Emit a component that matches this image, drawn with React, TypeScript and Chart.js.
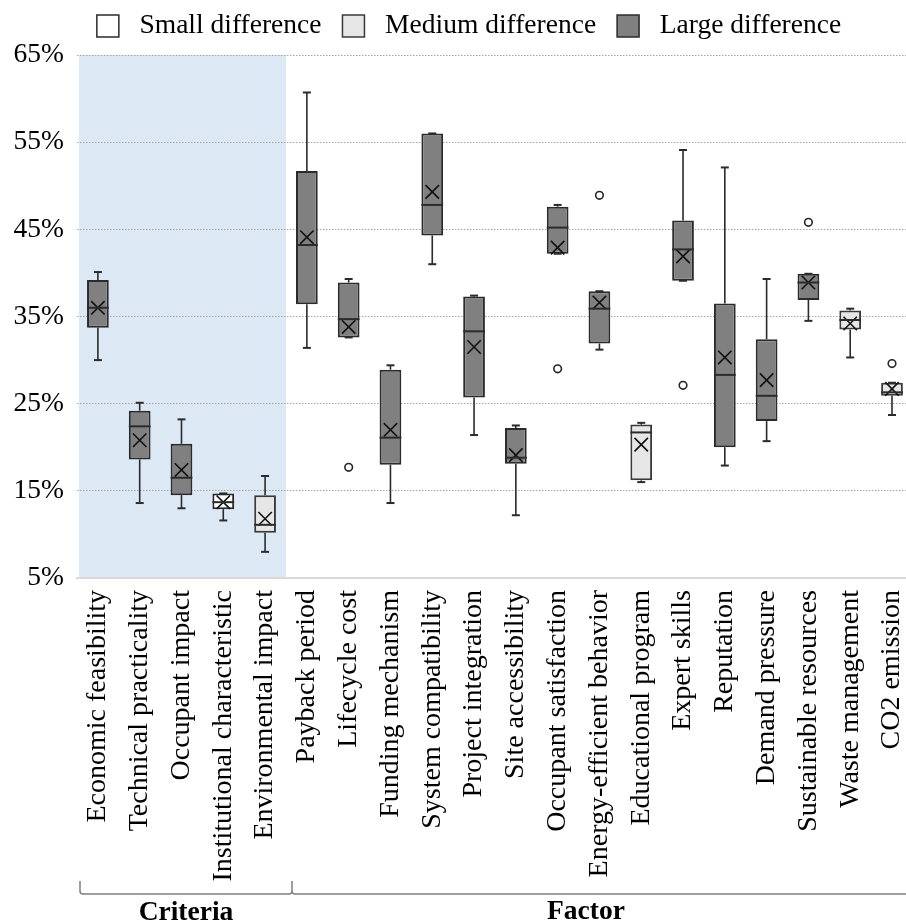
import React, { useEffect, useRef } from 'react';
import { Chart, registerables } from 'chart.js';

Chart.register(...registerables);

// ---------------- data ----------------
const categories = [
  'Economic feasibility',
  'Technical practicality',
  'Occupant impact',
  'Institutional characteristic',
  'Environmental impact',
  'Payback period',
  'Lifecycle cost',
  'Funding mechanism',
  'System compatibility',
  'Project integration',
  'Site accessibility',
  'Occupant satisfaction',
  'Energy-efficient behavior',
  'Educational program',
  'Expert skills',
  'Reputation',
  'Demand pressure',
  'Sustainable resources',
  'Waste management',
  'CO2 emission',
];

// difference level of each category: 0 = small, 1 = medium, 2 = large
const groups = [2, 2, 2, 0, 1, 2, 2, 2, 2, 2, 2, 2, 2, 1, 2, 2, 2, 2, 1, 1];

const whiskerLow = [30.0, 13.6, 13.0, 11.6, 8.0, 31.4, 32.6, 13.6, 41.0, 21.4, 12.2, 42.2, 31.2, 16.0, 39.1, 17.9, 20.7, 34.5, 30.3, 23.7];
const q1 = [33.7, 18.6, 14.5, 12.9, 10.2, 36.4, 32.6, 18.0, 44.3, 25.7, 18.1, 42.2, 31.9, 16.2, 39.1, 20.0, 23.0, 36.9, 33.5, 25.9];
const median = [36.0, 22.4, 16.5, 13.7, 11.1, 43.2, 34.7, 21.1, 47.8, 33.3, 18.8, 45.2, 35.9, 21.7, 42.7, 28.3, 25.9, 38.9, 34.6, 26.3];
const q3 = [39.2, 24.2, 20.4, 14.7, 14.5, 51.7, 38.9, 28.9, 56.0, 37.3, 22.2, 47.6, 37.9, 22.6, 46.0, 36.5, 32.4, 39.9, 35.7, 27.4];
const whiskerHigh = [40.1, 25.1, 23.2, 14.7, 16.7, 60.7, 39.3, 29.4, 56.0, 37.4, 22.5, 47.8, 37.9, 22.8, 54.1, 52.1, 39.3, 39.9, 35.9, 27.4];
const mean = [36.0, 20.8, 17.4, 13.7, 11.8, 44.1, 33.8, 22.0, 49.3, 31.5, 19.1, 42.9, 36.6, 20.3, 41.9, 30.3, 27.7, 38.9, 34.2, 26.7];
const outliers: (number | null)[] = [null, null, null, null, null, null, 17.7, null, null, null, null, 29.0, 48.9, null, 27.1, null, null, 45.8, null, 29.6];

const legendLabels = ['Small difference', 'Medium difference', 'Large difference'];
const groupLabels = ['Criteria', 'Factor'];
const criteriaCount = 5;
const yMin = 5;
const yMax = 65;
const yStep = 10;

// ---------------- styles ----------------
const FONT = "'Liberation Serif', 'Times New Roman', serif";
const FS = 27.5;
const groupFill = ['#ffffff', '#e6e6e6', '#808080'];
const groupStroke = ['#2b2b2b', '#3a3a3a', '#2b2b2b'];
const lineColor = '#2b2b2b';

const shadePlugin = {
  id: 'shade',
  beforeDraw(chart: any) {
    const { ctx, chartArea } = chart;
    const x = chart.scales.x;
    const y = chart.scales.y;
    const bnd = (x.getPixelForValue(criteriaCount - 1) + x.getPixelForValue(criteriaCount)) / 2;
    const top = y.getPixelForValue(yMax);
    const bottom = y.getPixelForValue(yMin);
    ctx.save();
    ctx.fillStyle = '#dde8f5';
    ctx.fillRect(chartArea.left + 2, top, bnd - chartArea.left - 2, bottom - top);
    ctx.restore();
  },
};

const legendPadPlugin = {
  id: 'legendPad',
  beforeLayout(chart: any) {
    const lg = chart.legend;
    if (lg && !lg.__padded) {
      const f = lg.fit.bind(lg);
      lg.fit = function () {
        f();
        this.height += 5.25;
      };
      lg.__padded = true;
    }
  },
  afterLayout(chart: any) {
    const lg = chart.legend;
    if (lg) {
      lg.left += 12;
      lg.right += 12;
    }
  },
};

const boxPlotPlugin = {
  id: 'boxParts',
  afterDatasetsDraw(chart: any) {
    const { ctx } = chart;
    const y = chart.scales.y;
    const meta = chart.getDatasetMeta(0);
    ctx.save();
    ctx.strokeStyle = lineColor;
    ctx.lineCap = 'butt';
    meta.data.forEach((bar: any, i: number) => {
      const cx = bar.x;
      const half = bar.width / 2;
      const capHalf = 4;
      ctx.lineWidth = 1.6;
      if (whiskerHigh[i] > q3[i]) {
        ctx.beginPath();
        ctx.moveTo(cx, y.getPixelForValue(q3[i]));
        ctx.lineTo(cx, y.getPixelForValue(whiskerHigh[i]));
        ctx.stroke();
      }
      ctx.lineWidth = 2;
      ctx.beginPath();
      ctx.moveTo(cx - capHalf, y.getPixelForValue(whiskerHigh[i]));
      ctx.lineTo(cx + capHalf, y.getPixelForValue(whiskerHigh[i]));
      ctx.stroke();
      ctx.lineWidth = 1.6;
      if (whiskerLow[i] < q1[i]) {
        ctx.beginPath();
        ctx.moveTo(cx, y.getPixelForValue(q1[i]));
        ctx.lineTo(cx, y.getPixelForValue(whiskerLow[i]));
        ctx.stroke();
      }
      ctx.lineWidth = 2;
      ctx.beginPath();
      ctx.moveTo(cx - capHalf, y.getPixelForValue(whiskerLow[i]));
      ctx.lineTo(cx + capHalf, y.getPixelForValue(whiskerLow[i]));
      ctx.stroke();
      ctx.lineWidth = 2;
      ctx.beginPath();
      ctx.moveTo(cx - half, y.getPixelForValue(median[i]));
      ctx.lineTo(cx + half, y.getPixelForValue(median[i]));
      ctx.stroke();
    });
    ctx.restore();
  },
};

const groupAxisPlugin = {
  id: 'groupAxis',
  afterDraw(chart: any) {
    const { ctx, width } = chart;
    const x = chart.scales.x;
    const halfCat = (x.getPixelForValue(1) - x.getPixelForValue(0)) / 2;
    const start = x.getPixelForValue(0) - halfCat + 3;
    const mid = (x.getPixelForValue(criteriaCount - 1) + x.getPixelForValue(criteriaCount)) / 2 + 6;
    const lineY = 894;
    const tickTop = 881;
    ctx.save();
    ctx.strokeStyle = '#7f7f7f';
    ctx.lineWidth = 1.5;
    ctx.beginPath();
    ctx.moveTo(start, tickTop);
    ctx.lineTo(start, lineY - 3);
    ctx.quadraticCurveTo(start, lineY, start + 3, lineY);
    ctx.lineTo(mid - 3, lineY);
    ctx.quadraticCurveTo(mid, lineY, mid, lineY - 3);
    ctx.lineTo(mid, tickTop);
    ctx.moveTo(mid, lineY - 3);
    ctx.quadraticCurveTo(mid, lineY, mid + 3, lineY);
    ctx.lineTo(width, lineY);
    ctx.stroke();
    ctx.fillStyle = '#000';
    ctx.font = `bold ${FS}px ${FONT}`;
    ctx.textAlign = 'center';
    ctx.textBaseline = 'middle';
    ctx.fillText(groupLabels[0], (start + mid) / 2, 913);
    ctx.fillText(groupLabels[1], 586, 912);
    ctx.restore();
  },
};

export default function App() {
  const ref = useRef<HTMLCanvasElement>(null);

  useEffect(() => {
    if (!ref.current) return;
    Chart.defaults.font.family = FONT;
    Chart.defaults.color = '#000';

    const chart = new Chart(ref.current, {
      type: 'bar',
      data: {
        labels: categories,
        datasets: [
          {
            type: 'bar',
            label: 'Box',
            data: q1.map((v, i) => [v, q3[i]]) as any,
            backgroundColor: groups.map((g) => groupFill[g]),
            borderColor: groups.map((g) => groupStroke[g]),
            borderWidth: 2,
            borderSkipped: false,
            barPercentage: 0.52,
            categoryPercentage: 1,
            grouped: false,
            order: 3,
          } as any,
          {
            type: 'line',
            label: 'Mean',
            data: mean,
            showLine: false,
            pointStyle: 'crossRot',
            pointRadius: 9.5,
            pointBorderWidth: 1.6,
            pointBorderColor: '#111',
            pointBackgroundColor: 'rgba(0,0,0,0)',
            order: 1,
          } as any,
          {
            type: 'line',
            label: 'Outlier',
            data: outliers,
            showLine: false,
            pointStyle: 'circle',
            pointRadius: 3.8,
            pointBorderWidth: 1.6,
            pointBorderColor: '#262626',
            pointBackgroundColor: '#ffffff',
            order: 1,
          } as any,
        ],
      },
      options: {
        animation: false,
        responsive: true,
        maintainAspectRatio: false,
        devicePixelRatio: 1,
        layout: { padding: { top: -8.75, left: 0, right: 16, bottom: 0 } },
        plugins: {
          legend: {
            position: 'top',
            onClick: () => {},
            labels: {
              font: { size: FS, family: FONT },
              color: '#000',
              boxWidth: 22,
              boxHeight: 22,
              padding: 21,
              generateLabels: () =>
                legendLabels.map((t, i) => ({
                  text: ' ' + t,
                  fillStyle: groupFill[i],
                  strokeStyle: groupStroke[i],
                  lineWidth: 1.5,
                  hidden: false,
                  datasetIndex: 0,
                  fontColor: '#000',
                })),
            },
          },
          tooltip: { enabled: false },
        },
        scales: {
          x: {
            offset: true,
            grid: { display: false },
            border: { display: true, color: '#d9d9d9', width: 2 },
            ticks: {
              autoSkip: false,
              maxRotation: 90,
              minRotation: 90,
              padding: 4,
              color: '#000',
              font: { size: 28, family: FONT },
            },
            afterFit: (s: any) => {
              s.height = 345;
            },
          },
          y: {
            min: yMin,
            max: yMax,
            border: { display: false, dash: [1.5, 1.5] },
            grid: {
              drawTicks: false,
              color: (c: any) => (c.tick && c.tick.value === yMin ? 'rgba(0,0,0,0)' : '#a6a6a6'),
              lineWidth: 1,
            },
            ticks: {
              stepSize: yStep,
              padding: 13,
              color: '#000',
              font: { size: FS, family: FONT },
              callback: (v: any) => `${v}%`,
            },
            afterFit: (s: any) => {
              s.width = 77;
            },
          },
        },
      } as any,
      plugins: [shadePlugin, legendPadPlugin, boxPlotPlugin, groupAxisPlugin],
    });
    return () => chart.destroy();
  }, []);

  return (
    <div style={{ position: 'absolute', left: 0, top: 0, width: 906, height: 923, overflow: 'hidden', background: '#fff' }}>
      <div style={{ position: 'relative', width: 930, height: 923 }}>
        <canvas ref={ref} />
      </div>
    </div>
  );
}
